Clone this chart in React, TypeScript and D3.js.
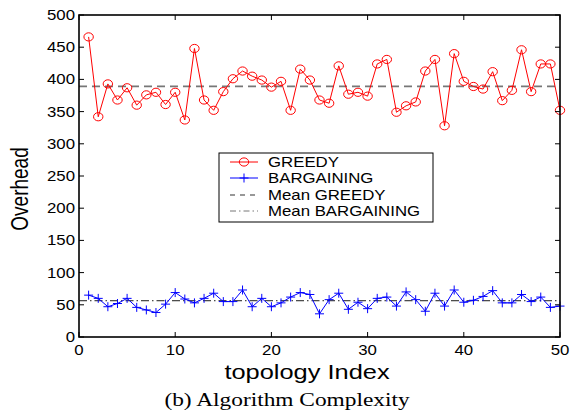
import React from "react";
import * as d3 from "d3";

const topologyIndex: number[] = d3.range(1, 51);

const greedy: number[] = [
  466, 342, 393, 368, 387, 360, 376, 380, 361, 380,
  337, 448, 368, 352, 381, 401, 413, 405, 399, 388,
  397, 352, 416, 399, 368, 363, 421, 377, 380, 374,
  424, 431, 349, 359, 365, 413, 431, 328, 440, 397,
  389, 385, 412, 367, 383, 446, 381, 424, 424, 352,
];

const bargaining: number[] = [
  65, 60, 47, 52, 60, 46, 42, 38, 51, 69,
  59, 53, 60, 68, 55, 55, 73, 47, 60, 47,
  53, 62, 69, 66, 36, 58, 68, 43, 54, 44,
  60, 62, 48, 70, 58, 40, 68, 48, 73, 54,
  57, 63, 72, 53, 53, 66, 55, 62, 46, 48,
];

const xTicks: number[] = [0, 10, 20, 30, 40, 50];
const yTicks: number[] = [0, 50, 100, 150, 200, 250, 300, 350, 400, 450, 500];
const legendLabels: string[] = ["GREEDY", "BARGAINING", "Mean GREEDY", "Mean BARGAINING"];

const W = 570;
const H = 415;
const L = 79, R = 560, T = 15, B = 337;
const SANS = "'Liberation Sans', Arial, Helvetica, sans-serif";
const SERIF = "'Liberation Serif', 'Times New Roman', serif";
const SX = 1.2;

function SText(props: { x: number; y: number; s?: number; size: number; anchor?: string; family?: string; children: React.ReactNode; rotate?: boolean; dy?: string }) {
  const { x, y, s = SX, size, anchor = "start", family = SANS, children, rotate, dy } = props;
  const tr = rotate
    ? `translate(${x},${y}) rotate(-90) scale(1,${s})`
    : `translate(${x},${y}) scale(${s},1)`;
  return (
    <text transform={tr} fontSize={size} fontFamily={family} textAnchor={anchor} dy={dy} fill="#000">
      {children}
    </text>
  );
}

export default function App() {
  const x = d3.scaleLinear().domain([0, 50]).range([L, R]);
  const y = d3.scaleLinear().domain([0, 500]).range([B, T]);
  const line = d3.line<number>().x((_, i) => x(topologyIndex[i])).y((d) => y(d));
  const meanG = d3.mean(greedy) as number;
  const meanB = d3.mean(bargaining) as number;
  const tick = 5;

  const plus = (cx: number, cy: number, key: string | number) => (
    <g key={key} stroke="#0000ff" strokeWidth={1}>
      <line x1={cx - 4.5} x2={cx + 4.5} y1={cy} y2={cy} />
      <line x1={cx} x2={cx} y1={cy - 4.5} y2={cy + 4.5} />
    </g>
  );

  const lx0 = 230, lx1 = 258, ltx = 268;
  const ly = [162, 178, 195, 211];

  return (
    <svg width={W} height={H} style={{ position: "absolute", left: 0, top: 0, background: "#fff" }}>
      <rect x={0} y={0} width={W} height={H} fill="#fff" />
      {/* mean lines */}
      <line x1={L} x2={R} y1={y(meanG)} y2={y(meanG)} stroke="#777" strokeWidth={1.8} strokeDasharray="8,5" />
      <line x1={L} x2={R} y1={y(meanB)} y2={y(meanB)} stroke="#000" strokeWidth={0.9} strokeDasharray="8,3,1.5,3" />
      {/* greedy */}
      <path d={line(greedy) || ""} fill="none" stroke="#ff0000" strokeWidth={1} />
      {greedy.map((v, i) => (
        <ellipse key={"g" + i} cx={x(topologyIndex[i])} cy={y(v)} rx={4.7} ry={4.1} fill="none" stroke="#ff0000" strokeWidth={1} />
      ))}
      {/* bargaining */}
      <path d={line(bargaining) || ""} fill="none" stroke="#0000ff" strokeWidth={1} />
      {bargaining.map((v, i) => plus(x(topologyIndex[i]), y(v), "b" + i))}

      {/* axes box */}
      <rect x={L} y={T} width={R - L} height={B - T} fill="none" stroke="#000" strokeWidth={1.6} />
      {xTicks.map((t) => (
        <g key={"xt" + t}>
          <line x1={x(t)} x2={x(t)} y1={B} y2={B - tick} stroke="#000" strokeWidth={1} />
          <line x1={x(t)} x2={x(t)} y1={T} y2={T + tick} stroke="#000" strokeWidth={1} />
          <SText x={x(t)} y={355} size={14} anchor="middle">{t}</SText>
        </g>
      ))}
      {yTicks.map((t) => (
        <g key={"yt" + t}>
          <line x1={L} x2={L + tick} y1={y(t)} y2={y(t)} stroke="#000" strokeWidth={1} />
          <line x1={R} x2={R - tick} y1={y(t)} y2={y(t)} stroke="#000" strokeWidth={1} />
          <SText x={75} y={y(t)} size={14} anchor="end" dy="0.36em">{t}</SText>
        </g>
      ))}

      {/* axis labels */}
      <SText x={307} y={379} size={20} s={1.27} anchor="middle">topology Index</SText>
      <SText x={28} y={189} size={19} s={1.25} anchor="middle" rotate>Overhead</SText>

      {/* legend */}
      <rect x={219} y={153} width={214} height={69} fill="#fff" stroke="#000" strokeWidth={1} />
      <line x1={lx0} x2={lx1} y1={ly[0]} y2={ly[0]} stroke="#ff0000" strokeWidth={1} />
      <ellipse cx={(lx0 + lx1) / 2} cy={ly[0]} rx={4.7} ry={4.1} fill="none" stroke="#ff0000" strokeWidth={1} />
      <line x1={lx0} x2={lx1} y1={ly[1]} y2={ly[1]} stroke="#0000ff" strokeWidth={1} />
      {plus((lx0 + lx1) / 2, ly[1], "lp")}
      <line x1={lx0} x2={lx1} y1={ly[2]} y2={ly[2]} stroke="#777" strokeWidth={1.4} strokeDasharray="5,5" />
      <line x1={lx0} x2={lx1} y1={ly[3]} y2={ly[3]} stroke="#777" strokeWidth={1} strokeDasharray="6,3,1.5,3" />
      {legendLabels.map((lab, i) => (
        <SText key={lab} x={ltx} y={ly[i]} size={14} anchor="start" dy="0.36em">{lab}</SText>
      ))}

      {/* caption */}
      <SText x={287} y={406} size={19} s={1.23} anchor="middle" family={SERIF}>(b) Algorithm Complexity</SText>
    </svg>
  );
}
